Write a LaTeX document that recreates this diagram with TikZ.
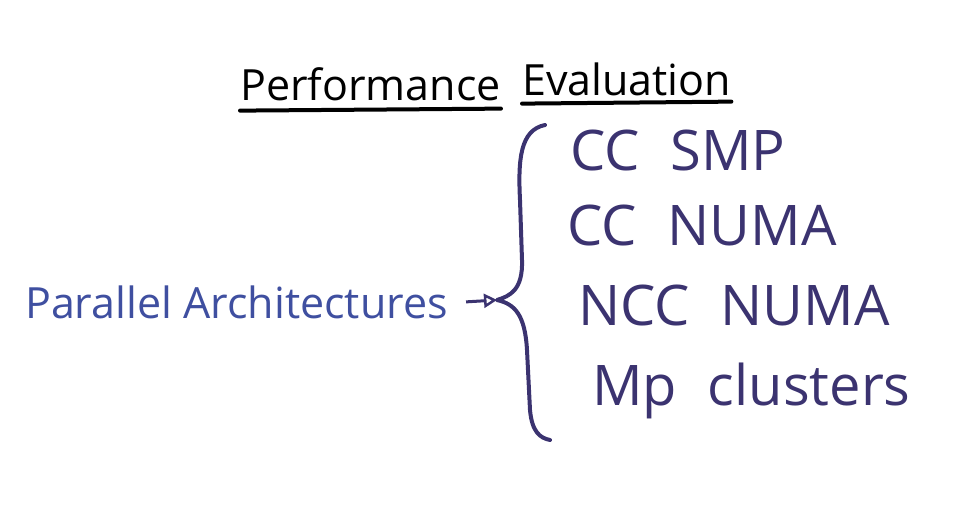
\documentclass[tikz,border=0pt]{standalone}
\usepackage{fontspec}
\setmainfont{Open Sans}
\usetikzlibrary{arrows.meta}
\definecolor{ink}{HTML}{3B3370}
\definecolor{penblue}{HTML}{3F4FA0}
\newcommand\itemfont{\fontsize{56}{60}\selectfont\spaceskip=0.55em\relax}
\begin{document}
\begin{tikzpicture}[x=1pt,y=-1pt,
    title/.style={anchor=base west, inner sep=0pt, font=\fontsize{43}{48}\selectfont},
    item/.style={anchor=base west, inner sep=0pt, text=ink, font=\itemfont},
    stroke/.style={line width=4pt, line cap=round, line join=round}]
    \useasboundingbox (0,0) rectangle (961,504);

    % title
    \node [title] (perf) at (240,100) {Performance};
    \node [title] (eval) at (522,95) {Evaluation};
    \draw [stroke, black] ([yshift=-10pt]perf.south west) -- ([yshift=-8pt]perf.south east);
    \draw [stroke, black] ([yshift=-8pt]eval.south west) -- ([yshift=-6pt]eval.south east);

    % left side
    \node [title, text=penblue] (arch) at (25,318) {Parallel Architectures};
    \coordinate (tip) at (497,300);
    \draw [line width=3pt, ink, -{Triangle[open,length=13pt,width=14pt,line width=2.5pt]}]
      ([xshift=18pt]arch.east) -- (tip);

    % brace
    \draw [stroke, ink] (545,125) .. controls (520,130) and (518,160) .. (520,200)
      -- (522,260) .. controls (523,290) and (510,296) .. (tip)
      .. controls (515,304) and (525,315) .. (527,350)
      -- (530,410) .. controls (532,432) and (540,438) .. (550,440);

    % right side
    \node [item] (smp) at (570,170) {CC SMP};
    \node [item] (ccnuma) at (567,245) {CC NUMA};
    \node [item] (nccnuma) at (578,325) {NCC NUMA};
    \node [item] (mp) at (592,405) {Mp clusters};
\end{tikzpicture}
\end{document}
